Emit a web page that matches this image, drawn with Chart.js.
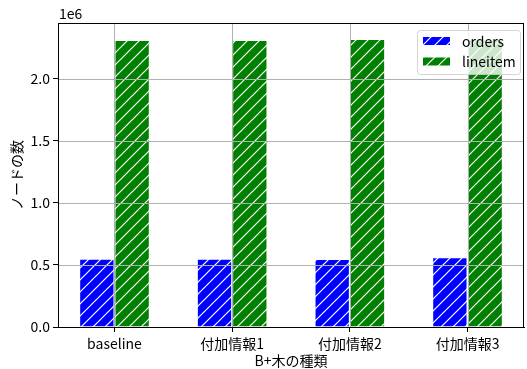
<!DOCTYPE html>
<html>
<head>
<meta charset="utf-8">
<script src="https://cdn.jsdelivr.net/npm/chart.js@4/dist/chart.umd.min.js"></script>
<style>
  html, body { margin: 0; padding: 0; background: #fff; }
</style>
</head>
<body>
<canvas id="chart" width="527" height="369"></canvas>
<script>
// data
const categories = ["baseline", "付加情報1", "付加情報2", "付加情報3"];
const seriesNames = ["orders", "lineitem"];
const orders = [551000, 551000, 549000, 562000];
const lineitem = [2312000, 2313000, 2322000, 2318000];
const yTicks = [0, 500000, 1000000, 1500000, 2000000];

const FONT = '"Noto Sans CJK JP", "DejaVu Sans", sans-serif';
const font = { family: FONT, size: 14 };

const canvas = document.getElementById("chart");
const ctx = canvas.getContext("2d");

// matplotlib-like '/' hatch
function hatch(color) {
  const s = 12;
  const c = document.createElement("canvas");
  c.width = s; c.height = s;
  const g = c.getContext("2d");
  g.fillStyle = color;
  g.fillRect(0, 0, s, s);
  g.strokeStyle = "#fff";
  g.lineWidth = 1.2;
  g.beginPath();
  g.moveTo(-2, s + 2); g.lineTo(s + 2, -2);
  g.moveTo(-2, 2); g.lineTo(2, -2);
  g.moveTo(s - 2, s + 2); g.lineTo(s + 2, s - 2);
  g.stroke();
  return ctx.createPattern(c, "repeat");
}

const blueHatch = hatch("#0000ff");
const greenHatch = hatch("#008000");

// grid on top of bars + full frame
const gridOver = {
  id: "gridOver",
  afterDatasetsDraw(chart) {
    const { ctx, chartArea: a, scales: { x, y } } = chart;
    ctx.save();
    ctx.strokeStyle = "#b0b0b0";
    ctx.lineWidth = 1;
    ctx.beginPath();
    categories.forEach((_, i) => {
      const px = Math.round(x.getPixelForValue(i)) + 0.5;
      ctx.moveTo(px, a.top); ctx.lineTo(px, a.bottom);
    });
    yTicks.forEach(v => {
      const py = Math.round(y.getPixelForValue(v)) + 0.5;
      ctx.moveTo(a.left, py); ctx.lineTo(a.right, py);
    });
    ctx.stroke();
    ctx.strokeStyle = "#000";
    ctx.strokeRect(Math.round(a.left) + 0.5, Math.round(a.top) + 0.5,
      Math.round(a.right - a.left) - 1, Math.round(a.bottom - a.top));
    ctx.restore();
  },
  afterDraw(chart) {
    const { ctx, chartArea: a } = chart;
    ctx.save();
    // offset text
    ctx.fillStyle = "#000";
    ctx.font = `14px ${FONT}`;
    ctx.textAlign = "left";
    ctx.textBaseline = "alphabetic";
    ctx.fillText("1e6", a.left + 1, 18.5);

    // legend box
    const bx = 417, by = 30, bw = 103, bh = 44, r = 3;
    ctx.beginPath();
    ctx.roundRect(bx + 0.5, by + 0.5, bw, bh, r);
    ctx.fillStyle = "rgba(255,255,255,0.8)";
    ctx.fill();
    ctx.strokeStyle = "rgba(204,204,204,0.8)";
    ctx.lineWidth = 1;
    ctx.stroke();

    const fills = [blueHatch, greenHatch];
    seriesNames.forEach((name, i) => {
      const hy = 37 + i * 20.5;
      ctx.fillStyle = fills[i];
      ctx.fillRect(423, hy, 27, 8);
      ctx.fillStyle = "#000";
      ctx.textBaseline = "middle";
      ctx.fillText(name, 462, hy + 4.5);
    });
    ctx.restore();
  }
};

new Chart(canvas, {
  type: "bar",
  data: {
    datasets: [
      {
        label: seriesNames[0],
        data: orders.map((v, i) => ({ x: i, y: v })),
        backgroundColor: blueHatch,
        borderColor: "#ffffff",
        borderWidth: 1,
        categoryPercentage: 0.6,
        barPercentage: 1
      },
      {
        label: seriesNames[1],
        data: lineitem.map((v, i) => ({ x: i, y: v })),
        backgroundColor: greenHatch,
        borderColor: "#ffffff",
        borderWidth: 1,
        categoryPercentage: 0.6,
        barPercentage: 1
      }
    ]
  },
  options: {
    responsive: false,
    animation: false,
    devicePixelRatio: 1,
    layout: { padding: { left: 0, right: 3, top: 23, bottom: 0 } },
    plugins: { legend: { display: false }, tooltip: { enabled: false } },
    scales: {
      x: {
        type: "linear",
        min: -0.48,
        max: 3.48,
        offset: false,
        grid: { display: true, drawOnChartArea: false, offset: false, tickLength: 5, color: "#000", tickWidth: 1 },
        border: { display: true, color: "#000", width: 1 },
        ticks: {
          font, color: "#000", padding: 3, autoSkip: false, maxRotation: 0,
          callback: v => categories[v] ?? ""
        },
        afterBuildTicks: s => { s.ticks = categories.map((_, i) => ({ value: i })); },
        afterFit: s => { s.height = 42; },
        title: { display: true, text: "B+木の種類", font, color: "#000", padding: { top: 0, bottom: 0 } }
      },
      y: {
        min: 0,
        max: 2450000,
        grid: { display: true, drawOnChartArea: false, tickLength: 5, color: "#000", tickWidth: 1 },
        border: { display: true, color: "#000", width: 1 },
        ticks: {
          font, color: "#000", padding: 3,
          callback: v => (v / 1e6).toFixed(1)
        },
        afterBuildTicks: s => { s.ticks = yTicks.map(v => ({ value: v })); },
        afterFit: s => { s.width = 58; },
        title: { display: true, text: "ノードの数", font, color: "#000", padding: { top: 8, bottom: 0 } }
      }
    }
  },
  plugins: [gridOver]
});
</script>
</body>
</html>
